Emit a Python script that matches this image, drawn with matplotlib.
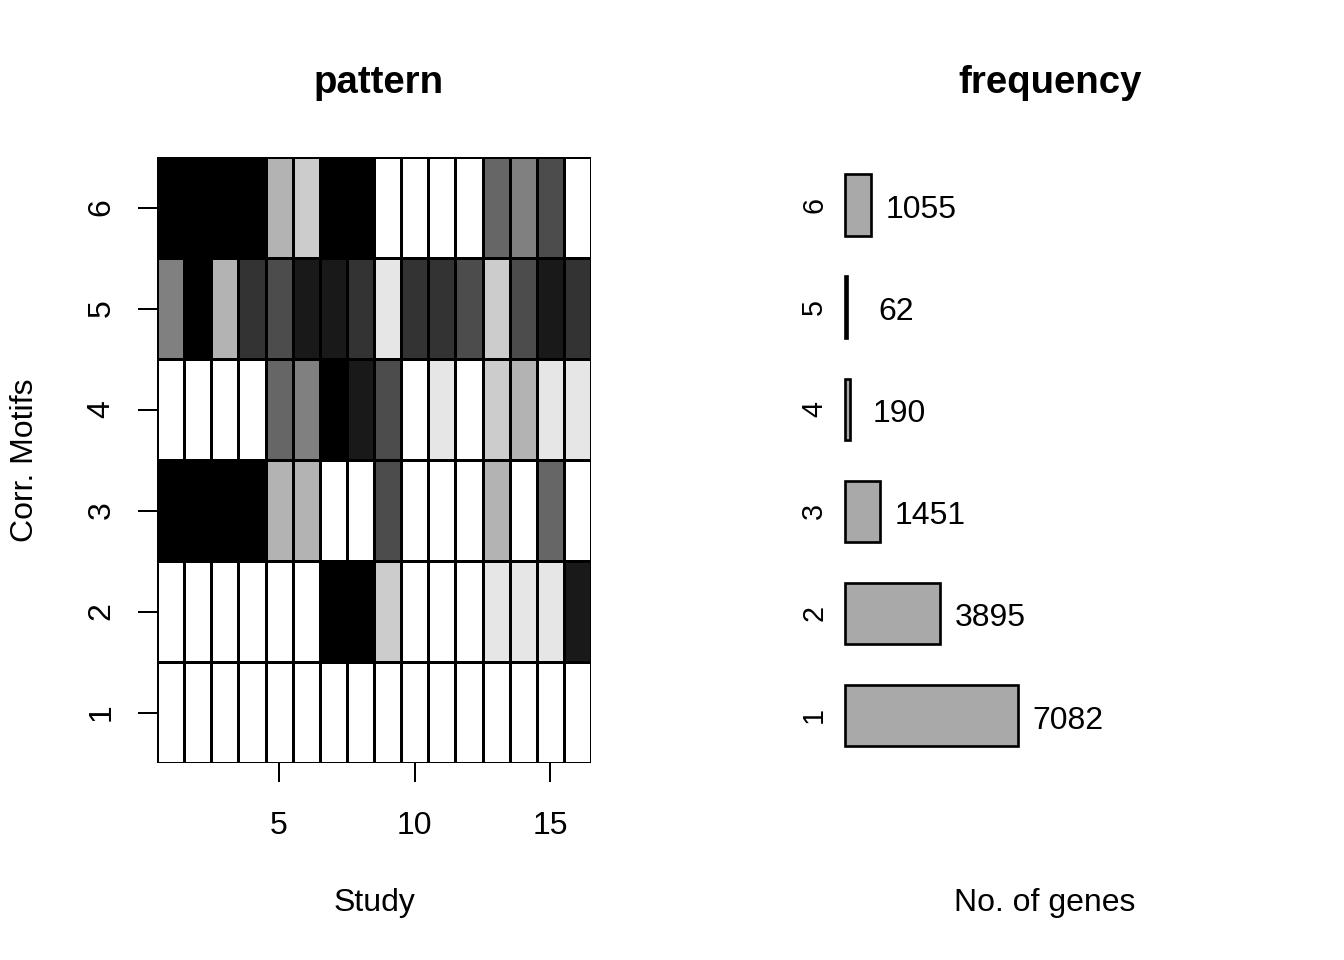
import matplotlib
matplotlib.use("Agg")
import matplotlib.pyplot as plt
import numpy as np

plt.rcParams['font.family'] = ['Liberation Sans', 'DejaVu Sans']

# ---- data ----
studies = list(range(1, 17))
motifs = [1, 2, 3, 4, 5, 6]
# grey level per cell (0 = black, 1 = white); rows = motif 1..6, cols = study 1..16
pattern_m1 = [1, 1, 1, 1, 1, 1, 1, 1, 1, 1, 1, 1, 1, 1, 1, 1]
pattern_m2 = [1, 1, 1, 1, 1, 1, 0, 0, 0.8, 1, 1, 1, 0.9, 0.9, 0.9, 0.1]
pattern_m3 = [0, 0, 0, 0, 0.7, 0.7, 1, 1, 0.3, 1, 1, 1, 0.7, 1, 0.4, 1]
pattern_m4 = [1, 1, 1, 1, 0.4, 0.5, 0, 0.1, 0.3, 1, 0.9, 1, 0.8, 0.7, 0.9, 0.9]
pattern_m5 = [0.5, 0, 0.7, 0.2, 0.3, 0.1, 0.1, 0.2, 0.9, 0.2, 0.2, 0.3, 0.8, 0.3, 0.1, 0.2]
pattern_m6 = [0, 0, 0, 0, 0.7, 0.8, 0, 0, 1, 1, 1, 1, 0.4, 0.5, 0.3, 1]
frequency = [7082, 3895, 1451, 190, 62, 1055]
x_ticks = [5, 10, 15]

pattern = np.array([pattern_m1, pattern_m2, pattern_m3, pattern_m4, pattern_m5, pattern_m6])

W, H = 1344, 960
fig = plt.figure(figsize=(7, 5), dpi=192)

# ---- heatmap panel ----
ax1 = fig.add_axes([157 / W, 1 - 763 / H, 434 / W, 606 / H])
xe = np.arange(len(studies) + 1) + 0.5
ye = np.arange(len(motifs) + 1) + 0.5
ax1.pcolormesh(xe, ye, pattern, cmap='gray', vmin=0, vmax=1,
               edgecolors='black', linewidth=1.0)
ax1.set_xlim(xe[0], xe[-1])
ax1.set_ylim(ye[0], ye[-1])
for s in ax1.spines.values():
    s.set_visible(False)
ax1.set_xticks(x_ticks)
ax1.set_xticklabels([str(t) for t in x_ticks])
ax1.set_yticks(motifs)
ax1.set_yticklabels([str(m) for m in motifs], rotation=90, va='center')
ax1.tick_params(axis='both', length=7.2, width=0.75, labelsize=12)
ax1.tick_params(axis='x', pad=10.9)
ax1.tick_params(axis='y', pad=8)

fig.text(379 / W, 1 - 83 / H, 'pattern', ha='center', va='center',
         fontsize=14.4, fontweight='bold')
fig.text(374 / W, 1 - 903 / H, 'Study', ha='center', va='center', fontsize=12)
fig.text(25 / W, 1 - 460 / H, 'Corr. Motifs', ha='center', va='center',
         fontsize=12, rotation=90)

# ---- frequency panel ----
ax2 = fig.add_axes([835 / W, 1 - 766.5 / H, 424 / W, 612.5 / H])
ax2.barh(motifs, frequency, height=0.6, color='#A9A9A9',
         edgecolor='black', linewidth=1.0)
for m, f in zip(motifs, frequency):
    ax2.annotate(str(f), xy=(f, m), xytext=(18.75, -1.9), textcoords='offset points',
                 ha='center', va='center', fontsize=12)
px_per_unit = 173 / 7082
ax2.set_xlim(-10 / px_per_unit, (1259 - 845) / px_per_unit)
ax2.set_ylim(0.5, 6.5)
for s in ax2.spines.values():
    s.set_visible(False)
ax2.set_xticks([])
ax2.set_yticks(motifs)
ax2.set_yticklabels([str(m) for m in motifs], rotation=90, va='center')
ax2.tick_params(axis='y', length=0, labelsize=10.8, pad=2.6)

fig.text(1050 / W, 1 - 83 / H, 'frequency', ha='center', va='center',
         fontsize=14.4, fontweight='bold')
fig.text(1045 / W, 1 - 903 / H, 'No. of genes', ha='center', va='center', fontsize=12)

fig.savefig('out.png', dpi=192, facecolor='white')
